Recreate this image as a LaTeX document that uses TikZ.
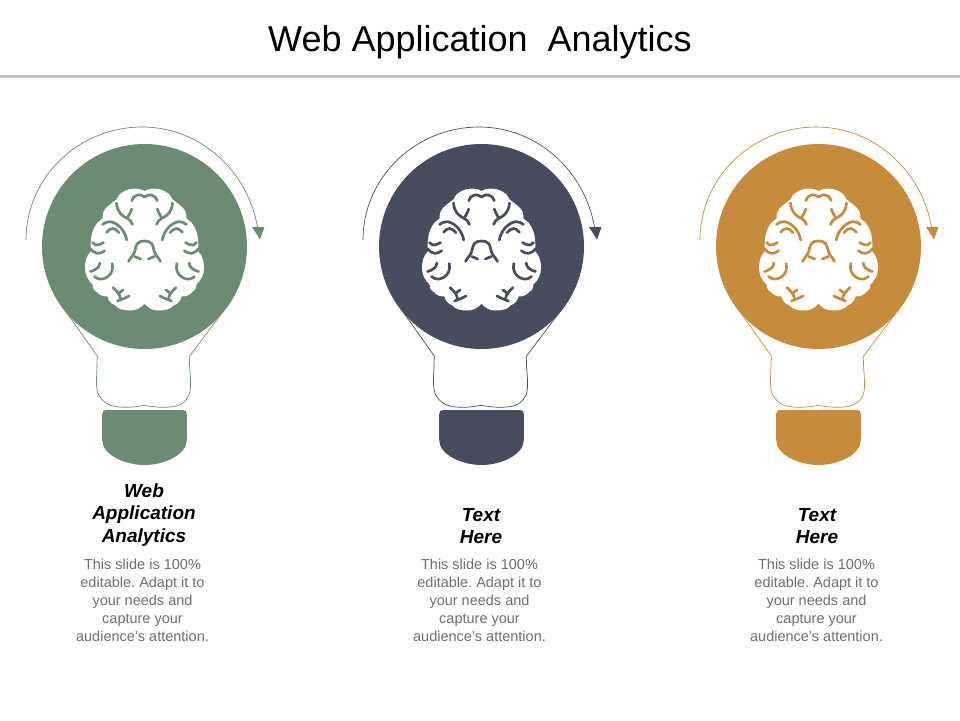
\documentclass[tikz,border=0pt]{standalone}
\usepackage{fontspec}
\setmainfont{Liberation Sans}
\definecolor{cgreen}{HTML}{6B8B73}
\definecolor{cdark}{HTML}{474C5E}
\definecolor{cgold}{HTML}{C68C3C}
\definecolor{cbody}{HTML}{6E6E6E}
\tikzset{
  titletext/.style={font=\fontsize{36}{42}\selectfont,text=black,inner sep=0pt,anchor=center},
  headtext/.style={font=\fontsize{19}{22.5}\selectfont\bfseries\itshape,text=black,align=center,inner sep=0pt},
  bodytext/.style={font=\fontsize{14.5}{18}\selectfont\frenchspacing,text=cbody,align=center,inner sep=0pt},
  vein/.style={line width=2.7pt,line cap=round,line join=round},
  outlineline/.style={line width=0.7pt},
}
\newcommand{\brainhalf}[1]{%
  \begin{scope}[xscale=#1]
    \fill[white] (-1,58) -- (0,57) .. controls (4,62) and (9,64) .. (14,64)
      .. controls (20,64) and (26,63) .. (29,59)
      .. controls (34,57) and (36,54) .. (37,50)
      .. controls (41,50) and (45,49) .. (47,46)
      .. controls (51,44) and (52,41) .. (52,38)
      .. controls (57,33) and (59.5,28) .. (59.5,21)
      .. controls (59.5,15) and (58,9) .. (53,4)
      .. controls (54,0) and (54.5,-3) .. (53.5,-6)
      .. controls (53.5,-12) and (51,-19) .. (47,-24)
      .. controls (45,-25.5) and (43.5,-26.5) .. (42,-28)
      .. controls (42,-33) and (41,-36) .. (38,-39)
      .. controls (35,-42) and (32,-44) .. (28,-47)
      .. controls (26,-52) and (23,-54) .. (20,-55.5)
      .. controls (14,-58.5) and (5,-59) .. (0,-55.5) -- (-1,-55.5) -- cycle;
  \end{scope}}
\newcommand{\brainveins}[2]{%
  \begin{scope}[xscale=#1,vein,draw=#2]
    \draw (0,-49.5) .. controls (2.5,-51.5) and (5,-52) .. (7,-51.5) .. controls (10,-51) and (12,-48.5) .. (12.8,-45.8);
    \draw (28,-43.5) .. controls (28,-38) and (25,-31.5) .. (17,-28) .. controls (15,-27) and (13,-25) .. (12,-22);
    \draw (12.8,-37.5) .. controls (14,-34) and (15.5,-31) .. (17,-29);
    \draw (17.8,-6.5) .. controls (19,-14) and (25,-23) .. (33.8,-24.8) .. controls (37,-25) and (40,-24) .. (42,-22);
    \draw (25.5,-13.8) .. controls (28,-16.5) and (30,-18) .. (32,-18) .. controls (34,-18) and (36,-16.5) .. (38,-14.2);
    \draw (41,-4) .. controls (44,-2) and (47,-1.2) .. (48.8,-1.5) .. controls (50,-2) and (51,-3) .. (52,-4);
    \draw (39.8,4.2) .. controls (43,6.5) and (45,7) .. (47.2,6.8) .. controls (50,6.5) and (52,4.5) .. (53.8,2.5);
    \draw (32.3,17) .. controls (31,23) and (33,28) .. (38,31) .. controls (42,33.5) and (47,33) .. (50,30);
    \draw (44.7,16.5) .. controls (45,20) and (47,23) .. (54,25);
    \draw (31.5,41) .. controls (29,43.5) and (27.5,45) .. (26,47) .. controls (25,48.5) and (24.5,50) .. (24,52);
    \draw (21.5,43.5) -- (26,47);
    \draw (15.5,49.5) .. controls (19,51.5) and (23,53) .. (27,54.5);
    \draw (0,-5.5) .. controls (3,-5.5) and (5.5,-5) .. (7,-3) .. controls (9.5,0) and (8.5,3) .. (9.8,5) .. controls (11,9) and (14,11) .. (16,15);
    \draw (9.8,10) -- (3.8,12.5);
  \end{scope}}
\newcommand{\lightbulb}[3]{%
  \begin{scope}[shift={(#1,246.5)}]
    % glass outline
    \draw[outlineline,draw=#2] (-83,59) -- (-47.2,109.5) -- (-47.5,118)
      .. controls (-47.5,130) and (-50,145) .. (-44,151)
      .. controls (-38,160) and (-28,161) .. (-16,160.7)
      .. controls (-8,160.5) and (-3,159) .. (-1,159)
      .. controls (2,159) and (8,160.5) .. (16,160.7)
      .. controls (28,161) and (38,160) .. (43,151)
      .. controls (48,145) and (45.5,130) .. (45,118)
      -- (44.8,110) -- (83,59);
    % disc
    \node[circle,fill=#2,minimum size=205pt,inner sep=0pt] (disc#3) at (0,0) {};
    % base
    \fill[#2] (-42.3,167.5) .. controls (-42.3,164.5) and (-41,163.5) .. (-38.3,163.5)
      -- (38.3,163.5) .. controls (41,163.5) and (42.3,164.5) .. (42.3,167.5)
      -- (42.3,193.5) .. controls (42.3,208) and (20,218.5) .. (0,218.5)
      .. controls (-20,218.5) and (-42.3,208) .. (-42.3,193.5) -- cycle;
    % brain
    \brainhalf{1}\brainhalf{-1}
    \brainveins{1}{#2}\brainveins{-1}{#2}
    % arrow
    \coordinate (arcstart#3) at (-118.5,-6.5);
    \coordinate (arcend#3) at (113,-19.5);
    \draw[outlineline,draw=#2] (arcstart#3) .. controls (-118.5,-69.5) and (-65.5,-119.5) .. (-2.5,-119.5)
      .. controls (55.5,-119.5) and (103,-76) .. (arcend#3);
    \fill[#2] (107.5,-19.5) -- (120,-19.5) -- (115.5,-7) -- cycle;
  \end{scope}}
\begin{document}
\begin{tikzpicture}[x=1pt,y=-1pt]
  \useasboundingbox (0,0) rectangle (960,720);
  \fill[white] (0,0) rectangle (960,720);
  \node[titletext] (title) at (480,42) {Web Application\ \ Analytics};
  \coordinate (ruleL) at (0,76);
  \coordinate (ruleR) at (960,76);
  \draw[line width=3pt,draw=black!24] (ruleL) -- (ruleR);
  \lightbulb{144.5}{cgreen}{a}
  \lightbulb{481.5}{cdark}{b}
  \lightbulb{818.5}{cgold}{c}
  \node[headtext] (heada) at (144,515) {Web\\Application\\Analytics};
  \node[headtext] (headb) at (481,526) {Text\\Here};
  \node[headtext] (headc) at (817,526) {Text\\Here};
  \node[bodytext] (bodya) at (142.5,600) {This slide is 100\%\\editable. Adapt it to\\your needs and\\capture your\\audience's attention.};
  \node[bodytext] (bodyb) at (479.5,600) {This slide is 100\%\\editable. Adapt it to\\your needs and\\capture your\\audience's attention.};
  \node[bodytext] (bodyc) at (816.5,600) {This slide is 100\%\\editable. Adapt it to\\your needs and\\capture your\\audience's attention.};
\end{tikzpicture}
\end{document}
